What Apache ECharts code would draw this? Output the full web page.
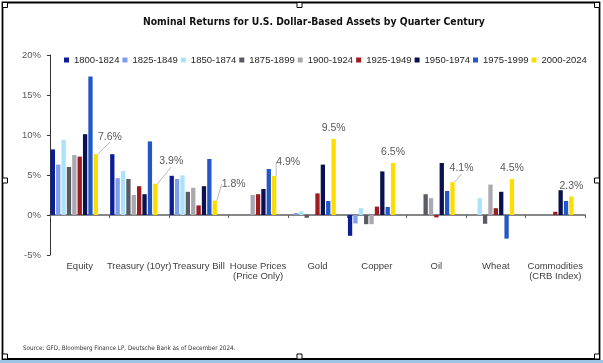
<!DOCTYPE html>
<html>
<head>
<meta charset="utf-8">
<script src="https://cdn.jsdelivr.net/npm/echarts@6/dist/echarts.min.js"></script>
<style>
html,body{margin:0;padding:0;background:#fff;}
#c{width:603px;height:363px;}
</style>
</head>
<body>
<div id="c"></div>
<script>
const categories = ['Equity','Treasury (10yr)','Treasury Bill','House Prices\n(Price Only)','Gold','Copper','Oil','Wheat','Commodities\n(CRB Index)'];
const periods = ['1800-1824','1825-1849','1850-1874','1875-1899','1900-1924','1925-1949','1950-1974','1975-1999','2000-2024'];
const v1800 = [8.2, 7.6, 4.9, null, null, -2.6, null, null, null];
const v1825 = [6.3, 4.6, 4.5, null, 0.25, -1.05, null, null, null];
const v1850 = [9.4, 5.5, 4.95, null, 0.45, 0.85, null, 2.1, null];
const v1875 = [6.0, 4.5, 2.9, null, -0.35, -1.15, 2.6, -1.1, null];
const v1900 = [7.5, 2.5, 3.4, 2.5, null, -1.15, 2.1, 3.8, null];
const v1925 = [7.3, 3.6, 1.2, 2.6, 2.7, 1.05, -0.3, 0.85, 0.4];
const v1950 = [10.1, 2.6, 3.6, 3.25, 6.3, 5.45, 6.5, 2.9, 3.1];
const v1975 = [17.3, 9.2, 7.0, 5.75, 1.75, 1.0, 3.0, -2.95, 1.75];
const v2000 = [7.6, 3.9, 1.8, 4.9, 9.5, 6.5, 4.1, 4.5, 2.3];
const yTicks = [-5, 0, 5, 10, 15, 20];

const seriesValues = [v1800, v1825, v1850, v1875, v1900, v1925, v1950, v1975, v2000];
const colors = ['#0B1E96','#7E9DED','#A9E2FB','#595A64','#A8A8B0','#9E1B1F','#0B1150','#2157C9','#FFDC00'];
// label displacement (styling) for the 2000-2024 labels that use a leader line
const labelMove = {0:[14,-7], 1:[16,-12], 2:[19,-6], 3:[14,-3], 6:[9,-3.5]};

const font = "'Liberation Sans', Arial, sans-serif";
const narrow = "'Liberation Sans Narrow', 'DejaVu Sans Condensed', 'Liberation Sans', sans-serif";

const series = seriesValues.map((vals, i) => {
  const s = {
    name: periods[i], type: 'bar', barWidth: 4.3, barGap: '25%',
    itemStyle: {color: colors[i]},
    data: vals.slice()
  };
  if (i === 8) {
    s.data = vals.map((v, k) => ({value: v, labelLine: {show: labelMove[k] !== undefined}}));
    s.label = {show: true, position: 'top', distance: 5, formatter: p => p.value.toFixed(1) + '%',
               fontSize: 10.5, color: '#595959', fontFamily: font};
    s.labelLine = {lineStyle: {color: '#A6A6A6', width: 0.8}};
    s.labelLayout = function (p) {
      const m = labelMove[p.dataIndex];
      return m ? {dx: m[0], dy: m[1]} : {};
    };
  }
  return s;
});
// two spacer series (no data shown) reproduce the left-aligned grouping in each category
for (let j = 0; j < 2; j++) {
  series.push({name: 'spacer' + j, type: 'bar', barWidth: 4.3, barGap: '25%', data: categories.map(() => null), silent: true});
}

const chart = echarts.init(document.getElementById('c'), null, {renderer: 'canvas'});
const h = (x, y) => ({type: 'rect', shape: {x: x, y: y, width: 5, height: 5}, style: {fill: '#fff', stroke: '#000', lineWidth: 1}, z: 100});
chart.setOption({
  animation: false,
  backgroundColor: '#fff',
  textStyle: {fontFamily: font},
  title: {
    text: 'Nominal Returns for U.S. Dollar-Based Assets by Quarter Century',
    left: 138, top: 12,
    textStyle: {fontSize: 10.3, fontWeight: 'bold', color: '#111', fontFamily: narrow}
  },
  legend: {
    data: periods, left: 59, top: 50, itemWidth: 5, itemHeight: 5, itemGap: 3, icon: 'rect',
    textStyle: {fontSize: 9.5, color: '#262626', fontFamily: font}
  },
  grid: {left: 50, right: 18, top: 55, bottom: 108, containLabel: false},
  xAxis: {
    type: 'category', data: categories,
    axisLine: {onZero: true, lineStyle: {color: '#606060', width: 1.6}},
    axisTick: {show: true, interval: 0, length: 3, lineStyle: {color: '#606060'}},
    axisLabel: {interval: 0, margin: 6, fontSize: 9.5, color: '#404040', lineHeight: 10, fontFamily: font}
  },
  yAxis: {
    type: 'value', min: yTicks[0], max: yTicks[yTicks.length - 1], interval: 5,
    axisLine: {show: true, lineStyle: {color: '#333', width: 1}},
    axisTick: {show: true, length: 3, lineStyle: {color: '#333'}},
    splitLine: {show: false},
    axisLabel: {formatter: '{value}%', fontSize: 9.5, color: '#595959', margin: 9, fontFamily: font}
  },
  series: series,
  graphic: [
    {type: 'rect', shape: {x: 0, y: 360, width: 603, height: 3}, style: {fill: '#9DC3E6'}, z: 90},
    {type: 'rect', shape: {x: 2.5, y: 2.5, width: 597, height: 356.5}, style: {fill: 'none', stroke: '#000', lineWidth: 1.8}, z: 99},
    h(2.5, 2.5), h(297, 2.5), h(594.5, 2.5),
    h(2.5, 178), h(594.5, 178),
    h(2.5, 354), h(297, 354), h(594.5, 354),
    {type: 'text', left: 23, top: 345, style: {text: 'Source: GFD, Bloomberg Finance LP, Deutsche Bank as of December 2024.', fontSize: 6.3, fill: '#333', fontFamily: narrow}, z: 100}
  ]
});
</script>
</body>
</html>
